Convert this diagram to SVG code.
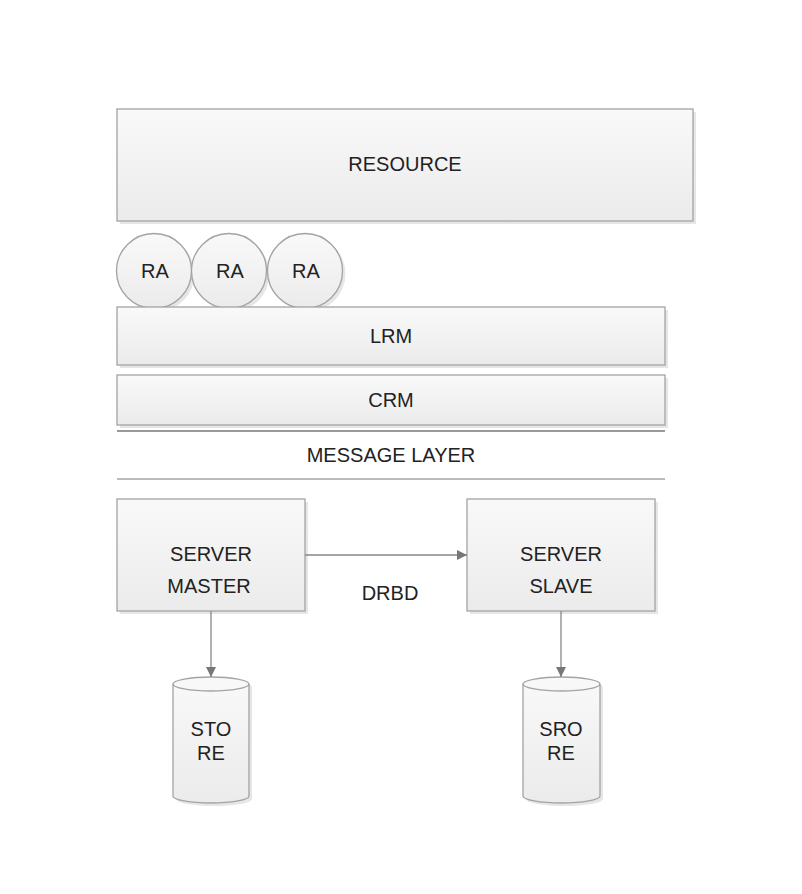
<svg xmlns="http://www.w3.org/2000/svg" width="802" height="894" viewBox="0 0 802 894">
<defs>
<linearGradient id="g" x1="0" y1="0" x2="0" y2="1">
<stop offset="0" stop-color="#f9f9f9"/>
<stop offset="1" stop-color="#ebebeb"/>
</linearGradient>
<marker id="ah" viewBox="0 0 10 10" refX="10" refY="5" markerWidth="10" markerHeight="10" markerUnits="userSpaceOnUse" orient="auto">
<path d="M0,0 L10,5 L0,10 Z" fill="#777"/>
</marker>
</defs>
<style>
.box{fill:url(#g);stroke:#a3a3a3;stroke-width:1.3}
.sh{fill:#e6e6e6}
.t{font-family:"Liberation Sans",Arial,sans-serif;font-size:20px;fill:#222;text-anchor:middle}
.c{stroke:#888;stroke-width:1.3;fill:none}
</style>
<rect width="802" height="894" fill="#fff"/>
<g id="resource">
<rect class="sh" x="120" y="112" width="576" height="112"/>
<rect class="box" x="117" y="109" width="576" height="112"/>
<text class="t" x="405" y="171">RESOURCE</text>
</g>
<g id="ra1">
<circle class="sh" cx="157" cy="274" r="37.5"/>
<circle class="box" cx="154" cy="271" r="37.5"/>
<text class="t" x="155" y="278">RA</text>
</g>
<g id="ra2">
<circle class="sh" cx="232" cy="274" r="37.5"/>
<circle class="box" cx="229" cy="271" r="37.5"/>
<text class="t" x="230" y="278">RA</text>
</g>
<g id="ra3">
<circle class="sh" cx="308" cy="274" r="37.5"/>
<circle class="box" cx="305" cy="271" r="37.5"/>
<text class="t" x="306" y="278">RA</text>
</g>
<g id="lrm">
<rect class="sh" x="120" y="310" width="548" height="58"/>
<rect class="box" x="117" y="307" width="548" height="58"/>
<text class="t" x="391" y="343">LRM</text>
</g>
<g id="crm">
<rect class="sh" x="120" y="378" width="548" height="50"/>
<rect class="box" x="117" y="375" width="548" height="50"/>
<text class="t" x="391" y="407">CRM</text>
</g>
<g id="message-layer">
<line x1="117" y1="431" x2="665" y2="431" stroke="#999" stroke-width="2"/>
<text class="t" x="391" y="462">MESSAGE LAYER</text>
<line x1="117" y1="479" x2="665" y2="479" stroke="#bbb" stroke-width="2"/>
</g>
<g id="server-master">
<rect class="sh" x="120" y="502" width="188" height="112"/>
<rect class="box" x="117" y="499" width="188" height="112"/>
<text class="t" x="211" y="561">SERVER</text>
<text class="t" x="209" y="593">MASTER</text>
</g>
<g id="server-slave">
<rect class="sh" x="470" y="502" width="188" height="112"/>
<rect class="box" x="467" y="499" width="188" height="112"/>
<text class="t" x="561" y="561">SERVER</text>
<text class="t" x="561" y="593">SLAVE</text>
</g>
<g id="store">
<path class="sh" d="M176,687 A38,7 0 0 1 252,687 V799 A38,7 0 0 1 176,799 Z"/>
<path class="box" d="M173,684 A38,7 0 0 1 249,684 V796 A38,7 0 0 1 173,796 Z"/>
<path d="M173,684 A38,7 0 0 0 249,684" fill="none" stroke="#a3a3a3" stroke-width="1.3"/>
<text class="t" x="211" y="736">STO</text>
<text class="t" x="211" y="760">RE</text>
</g>
<g id="srore">
<path class="sh" d="M526,687 A38.5,7 0 0 1 603,687 V799 A38.5,7 0 0 1 526,799 Z"/>
<path class="box" d="M523,684 A38.5,7 0 0 1 600,684 V796 A38.5,7 0 0 1 523,796 Z"/>
<path d="M523,684 A38.5,7 0 0 0 600,684" fill="none" stroke="#a3a3a3" stroke-width="1.3"/>
<text class="t" x="561" y="736">SRO</text>
<text class="t" x="561" y="760">RE</text>
</g>
<g id="connectors">
<line class="c" x1="305" y1="555" x2="467" y2="555" marker-end="url(#ah)"/>
<text class="t" x="390" y="600">DRBD</text>
<line class="c" x1="211" y1="611" x2="211" y2="677" marker-end="url(#ah)"/>
<line class="c" x1="561" y1="611" x2="561" y2="677" marker-end="url(#ah)"/>
</g>
</svg>
